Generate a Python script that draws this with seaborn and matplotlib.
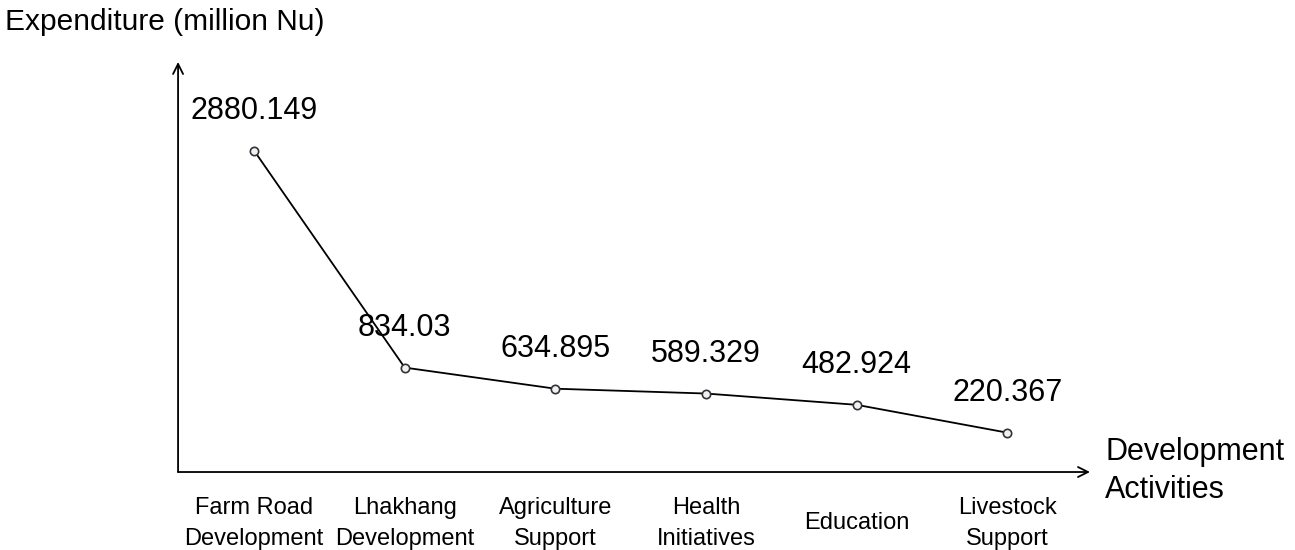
import matplotlib.pyplot as plt
import numpy as np
import pandas as pd
import seaborn as sns

# expenditure per development activity
activities = ["Farm Road\nDevelopment", "Lhakhang\nDevelopment", "Agriculture\nSupport",
              "Health\nInitiatives", "Education", "Livestock\nSupport"]
expenditure = [2880.149, 834.03, 634.895, 589.329, 482.924, 220.367]
value_labels = ["2880.149", "834.03", "634.895", "589.329", "482.924", "220.367"]

df = pd.DataFrame({"activity": activities, "expenditure": expenditure})

sns.set_style("white")
plt.rcParams['font.family'] = ['Liberation Sans', 'DejaVu Sans']
plt.rcParams['text.color'] = 'black'
plt.rcParams['xtick.color'] = 'black'

fig = plt.figure(figsize=(12.95, 5.5), dpi=100)
ax = fig.add_axes([0.1375, 0.1418, 0.7042, 0.7455])

sns.lineplot(x="activity", y="expenditure", data=df, sort=False, ax=ax,
             color="black", linewidth=1.3, marker="o", markersize=6,
             markerfacecolor="#eef0f5", markeredgecolor="#333333", markeredgewidth=1.2)

for i, (v, lab) in enumerate(zip(expenditure, value_labels)):
    ax.annotate(lab, (i, v), xytext=(0, 40), textcoords="offset pixels",
                ha="center", va="center", fontsize=22, color="black")

ax.set_xlim(-0.505, 5.55)
ax.set_ylim(-151, 3717)
ax.set_yticks([])
ax.tick_params(axis="x", length=0, pad=37, labelsize=17, labelcolor="black")
for t in ax.get_xticklabels():
    t.set_va("center")
    t.set_linespacing(1.5)
ax.set_xlabel("")
ax.set_ylabel("")
for s in ax.spines.values():
    s.set_visible(False)

# axes with arrow heads
ax.annotate("", xy=(0, 1), xytext=(0, 0), xycoords="axes fraction",
            arrowprops=dict(arrowstyle="->", color="black", lw=1.3,
                            mutation_scale=18, shrinkA=0, shrinkB=0))
ax.annotate("", xy=(1, 0), xytext=(0, 0), xycoords="axes fraction",
            arrowprops=dict(arrowstyle="->", color="black", lw=1.3,
                            mutation_scale=18, shrinkA=0, shrinkB=0))

fig.text(5 / 1295, 1 - 22 / 550, "Expenditure (million Nu)", fontsize=21.5,
         ha="left", va="center", color="black")
fig.text(1105 / 1295, 1 - 471 / 550, "Development\nActivities", fontsize=22,
         ha="left", va="center", linespacing=1.35, color="black")

fig.savefig("out.png", dpi=100)
